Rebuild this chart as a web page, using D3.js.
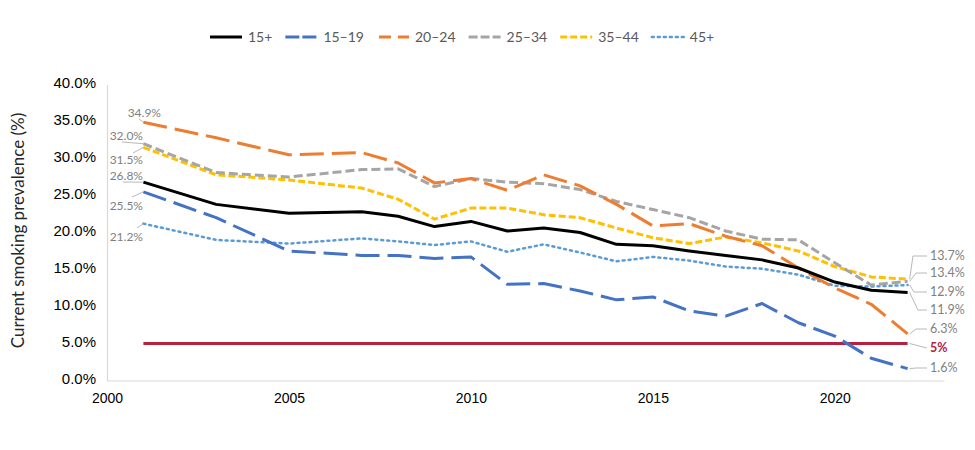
<!DOCTYPE html>
<html>
<head>
<meta charset="utf-8">
<script src="https://cdn.jsdelivr.net/npm/d3@7"></script>
<style>
  body { margin: 0; background: #fff; }
  svg { display: block; font-family: Lato, "Open Sans", sans-serif; }
</style>
</head>
<body>
<svg id="chart"></svg>
<script>
'use strict';

const years = [2001, 2003, 2005, 2007, 2008, 2009, 2010, 2011, 2012, 2013, 2014, 2015, 2016, 2017, 2018, 2019, 2020, 2021, 2022];

const all15 = [26.8, 23.8, 22.6, 22.8, 22.2, 20.8, 21.5, 20.2, 20.6, 20.0, 18.4, 18.2, 17.5, 16.9, 16.3, 15.2, 13.3, 12.2, 11.9];
const age1519 = [25.5, 22.0, 17.5, 16.9, 16.9, 16.5, 16.7, 13.0, 13.1, 12.1, 10.9, 11.3, 9.4, 8.7, 10.4, 7.8, 6.0, 3.0, 1.6];
const age2024 = [34.9, 32.8, 30.5, 30.8, 29.4, 26.7, 27.3, 25.7, 27.8, 26.3, 23.8, 20.9, 21.2, 19.5, 18.2, 15.2, 12.5, 10.3, 6.3];
const age2534 = [32.0, 28.1, 27.5, 28.5, 28.6, 26.2, 27.3, 26.8, 26.6, 25.8, 24.2, 23.1, 22.0, 20.2, 19.1, 19.0, 15.9, 12.9, 13.4];
const age3544 = [31.5, 27.8, 27.1, 26.0, 24.5, 21.8, 23.3, 23.3, 22.4, 22.0, 20.6, 19.3, 18.5, 19.4, 18.6, 17.5, 15.4, 14.0, 13.7];
const age45 = [21.2, 19.0, 18.5, 19.2, 18.8, 18.3, 18.8, 17.4, 18.4, 17.3, 16.1, 16.7, 16.2, 15.4, 15.1, 14.3, 12.8, 12.7, 12.9];

const target = 5;
const yTicks = [0, 5, 10, 15, 20, 25, 30, 35, 40];
const xTicks = [2000, 2005, 2010, 2015, 2020];

const series = [
  { name: '15+', values: all15, color: '#000000', dash: null, legendDash: null, width: 3 },
  { name: '15–19', values: age1519, color: '#4472c4', dash: '24,8', legendDash: '14,3', width: 3 },
  { name: '20–24', values: age2024, color: '#ed7d31', dash: '24,8', legendDash: '0,2,12,7,12', width: 3 },
  { name: '25–34', values: age2534, color: '#a5a5a5', dash: '9,4', legendDash: '9,3', width: 3 },
  { name: '35–44', values: age3544, color: '#ffc000', dash: '7,3', legendDash: '7,3', width: 3 },
  { name: '45+', values: age45, color: '#5b9bd5', dash: '2,4', legendDash: '2,4', width: 2.5 }
];

// label placement (start / end labels with leader lines)
const startLabels = {
  '20–24': { tx: 161, ty: 113, lx: 139, ly: 119 },
  '25–34': { tx: 143, ty: 136, lx: 122, ly: 142 },
  '35–44': { tx: 143, ty: 160, lx: 133, ly: 153 },
  '15+': { tx: 143, ty: 176, lx: 123, ly: 182 },
  '15–19': { tx: 143, ty: 206, lx: 132, ly: 197 },
  '45+': { tx: 143, ty: 237, lx: 137, ly: 228 }
};
const endLabels = {
  '35–44': { ty: 256, ex: 913 },
  '25–34': { ty: 273, ex: 916 },
  '45+': { ty: 292, ex: 914 },
  '15+': { ty: 310, ex: 918 },
  '20–24': { ty: 329, ex: 916 },
  '15–19': { ty: 368, ex: 916 }
};

const W = 975, H = 450;
const svg = d3.select('#chart').attr('width', W).attr('height', H);

const x = d3.scaleLinear().domain([2000, 2023]).range([107, 944]);
const y = d3.scaleLinear().domain([0, 40]).range([380.5, 84.5]);

// axes
const yAxis = d3.axisLeft(y).tickValues(yTicks).tickSize(0).tickPadding(11)
    .tickFormat(d => d.toFixed(1) + '%');
const gy = svg.append('g').attr('transform', `translate(${x(2000)},0)`).call(yAxis);
gy.select('.domain').attr('stroke', '#d9d9d9').attr('stroke-width', 1.2);
gy.selectAll('text').attr('font-size', 15).attr('fill', '#000').attr('dy', '0.32em')
    .attr('transform', 'translate(0,-2)');

const xAxis = d3.axisBottom(x).tickValues(xTicks).tickSize(0).tickPadding(13)
    .tickFormat(d3.format('d'));
const gx = svg.append('g').attr('transform', `translate(0,${y(0)})`).call(xAxis);
gx.select('.domain').attr('stroke', '#d9d9d9').attr('stroke-width', 1.2);
gx.selectAll('text').attr('font-size', 14).attr('fill', '#000');

svg.append('text')
    .attr('transform', `translate(24,${(y(40) + y(0)) / 2 - 2}) rotate(-90)`)
    .attr('text-anchor', 'middle')
    .attr('font-size', 17)
    .attr('fill', '#262626')
    .text('Current smoking prevalence (%)');

// target line
svg.append('line')
    .attr('x1', x(years[0])).attr('x2', x(years[years.length - 1]))
    .attr('y1', y(target)).attr('y2', y(target))
    .attr('stroke', '#b5223f').attr('stroke-width', 3);

const line = d3.line()
    .x((d, i) => x(years[i]))
    .y(d => y(d));

const leaderColor = '#a6a6a6';
const labelColor = '#7f7f7f';

series.slice().reverse().forEach(s => {
  svg.append('path')
      .datum(s.values)
      .attr('fill', 'none')
      .attr('stroke', s.color)
      .attr('stroke-width', s.width)
      .attr('stroke-dasharray', s.dash)
      .attr('stroke-linecap', s.name === '45+' ? 'round' : 'butt')
      .attr('stroke-linejoin', 'round')
      .attr('d', line);
});

// start labels
series.forEach(s => {
  const p = startLabels[s.name];
  const v = s.values[0];
  svg.append('line')
      .attr('x1', p.lx).attr('y1', p.ly)
      .attr('x2', x(years[0])).attr('y2', y(v))
      .attr('stroke', leaderColor).attr('stroke-width', 0.8);
  svg.append('text')
      .attr('x', p.tx).attr('y', p.ty)
      .attr('dy', '0.35em')
      .attr('text-anchor', 'end')
      .attr('font-size', 12)
      .attr('fill', labelColor)
      .text(v.toFixed(1) + '%');
});

// end labels
const lastX = x(years[years.length - 1]);
series.forEach(s => {
  const p = endLabels[s.name];
  const v = s.values[s.values.length - 1];
  svg.append('polyline')
      .attr('points', `${lastX + 2},${y(v)} ${p.ex},${p.ty} 927,${p.ty}`)
      .attr('fill', 'none')
      .attr('stroke', leaderColor).attr('stroke-width', 0.8);
  svg.append('text')
      .attr('x', 930).attr('y', p.ty)
      .attr('dy', '0.35em')
      .attr('font-size', 12.5)
      .attr('fill', labelColor)
      .text(v.toFixed(1) + '%');
});

svg.append('line')
    .attr('x1', lastX + 2).attr('y1', y(target))
    .attr('x2', 927).attr('y2', 348)
    .attr('stroke', leaderColor).attr('stroke-width', 0.8);
svg.append('text')
    .attr('x', 930).attr('y', 348)
    .attr('dy', '0.35em')
    .attr('font-size', 12.5)
    .attr('font-weight', 'bold')
    .attr('fill', '#b5223f')
    .text(target + '%');

// legend
const legend = svg.append('g').attr('transform', 'translate(210,37)');
let lx = 0;
series.forEach(s => {
  const g = legend.append('g').attr('transform', `translate(${lx},0)`);
  g.append('line')
      .attr('x1', 0).attr('x2', 32).attr('y1', 0).attr('y2', 0)
      .attr('stroke', s.color)
      .attr('stroke-width', s.width)
      .attr('stroke-linecap', s.name === '45+' ? 'round' : 'butt')
      .attr('stroke-dasharray', s.legendDash);
  const t = g.append('text')
      .attr('x', 38).attr('y', 0).attr('dy', '0.35em')
      .attr('font-size', 14)
      .attr('fill', '#595959')
      .text(s.name);
  lx += 38 + t.node().getComputedTextLength() + 13;
});
</script>
</body>
</html>
